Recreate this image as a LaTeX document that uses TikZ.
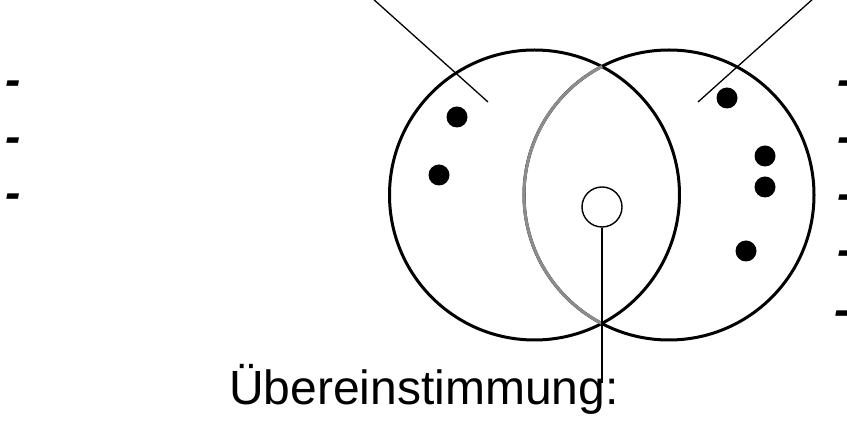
\documentclass[tikz,border=0pt]{standalone}
\usepackage{fontspec}
\setmainfont{Liberation Sans}
\usepackage{tikz}
\usetikzlibrary{positioning}

\begin{document}
\begin{tikzpicture}[x=1pt, y=1pt,
  ring/.style={circle, draw=black, line width=3pt, minimum size=290pt, inner sep=0pt},
  hub/.style={circle, draw=black, line width=1.4pt, minimum size=40pt, inner sep=0pt},
  dot/.style={circle, fill=black, minimum size=21pt, inner sep=0pt},
  pointer/.style={black, line width=1.3pt},
  lbl/.style={font=\fontsize{48}{52}\selectfont, inner sep=0pt},
  bullet/.style={lbl, font=\fontsize{46}{50}\selectfont\bfseries\itshape, anchor=base west}
]
\useasboundingbox (0,0) rectangle (847,428);
% the two sets
\node[ring] (setA) at (534.5,233) {};
\node[ring] (setB) at (669,233) {};
\draw[gray!90, line width=3pt] (setB.center) ++(117.5:145) arc[start angle=117.5, end angle=242.5, radius=145];
\node[hub] (match) at (602,221) {};
% elements
\node[dot] (a1) at (457,311) {};
\node[dot] (a2) at (439,253) {};
\node[dot] (b1) at (727,330) {};
\node[dot] (b2) at (765,272) {};
\node[dot] (b3) at (765,241) {};
\node[dot] (b4) at (746,177) {};
% pointer lines
\coordinate (tipA) at (372,430);
\coordinate (endA) at (488,326);
\coordinate (tipB) at (814,430);
\coordinate (endB) at (698,326);
\draw[pointer] (tipA) -- (endA);
\draw[pointer] (tipB) -- (endB);
% label below
\node[lbl, anchor=base west] (agree) at (229,23) {Übereinstimmung:};
\coordinate (agreeTop) at (602,45);
\draw[pointer] (match.south) -- (agreeTop);
% list marks
\node[bullet] (l1) at (5,332) {-};
\node[bullet] (l2) at (5,275) {-};
\node[bullet] (l3) at (5,219) {-};
\node[bullet] (r1) at (837,332) {-};
\node[bullet] (r2) at (837,275) {-};
\node[bullet] (r3) at (837,218) {-};
\node[bullet] (r4) at (837,162) {-};
\node[bullet] (r5) at (834,102) {-};
\end{tikzpicture}
\end{document}
